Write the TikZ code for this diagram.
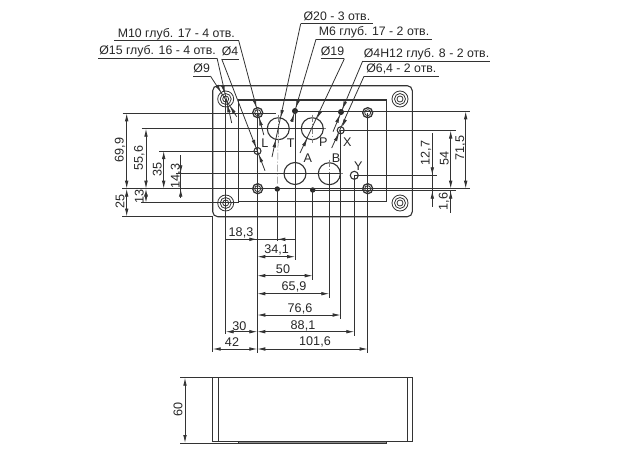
\documentclass[tikz,border=0pt]{standalone}
\usepackage{fontspec}
\setmainfont{Liberation Sans}
\usetikzlibrary{calc, arrows.meta}
\tikzset{
  ln/.style={draw=black!80, line width=.8pt},
  ctr/.style={draw=black!50, line width=.5pt, dash pattern=on 7pt off 2pt on 1pt off 2pt},
  dimln/.style={ln, {Latex[length=8pt,width=3.6pt]}-{Latex[length=8pt,width=3.6pt]}},
  tip/.style={ln, -{Latex[length=8pt,width=3.6pt]}},
  lbl/.style={font=\fontsize{12.3}{13}\selectfont, text=black!85, inner sep=0pt, text depth=3.4pt, anchor=south west, align=center},
  num/.style={font=\fontsize{12.6}{13}\selectfont, text=black!85, inner sep=0pt},
}
\begin{document}
\begin{tikzpicture}[x=1pt,y=-1pt]
\useasboundingbox (0,0) rectangle (640,455);
% holes
\coordinate (c1) at (225.7,99);
\coordinate (c2) at (400,99);
\coordinate (c3) at (225.7,203);
\coordinate (c4) at (400,203);
\coordinate (m1) at (257.7,112.7);
\coordinate (m2) at (367.7,112.7);
\coordinate (m3) at (257.7,188.7);
\coordinate (m4) at (367.7,188.7);
\coordinate (L) at (257.5,151);
\coordinate (T) at (278.3,128.7);
\coordinate (P) at (312.3,128.7);
\coordinate (A) at (295,173.5);
\coordinate (B) at (329.3,173.7);
\coordinate (X) at (340.7,130.3);
\coordinate (Y) at (354.3,175.3);
\coordinate (s1) at (295,111);
\coordinate (s2) at (341,112);
\coordinate (s3) at (277.3,189);
\coordinate (s4) at (312.7,190);

% plate
\draw[ln, line width=1.1pt, rounded corners=5pt] (212.7,85.7) rectangle (412.3,216.7);
\draw[ln, line width=1.1pt] (238.3,100) rectangle (386.7,201.7);
\foreach \h in {c1,c2,c3,c4}
{
  \draw[ln] (\h) circle (8pt) (\h) circle (5.5pt) (\h) circle (3pt);
}
\foreach \h in {m1,m2,m3,m4}
{
  \draw[ln, line width=1.3pt] (\h) circle (5pt);
  \draw[ln] (\h) circle (3pt);
}
\foreach \h/\r in {T/11pt,P/11pt,A/11pt,B/11pt}
{
  \draw[ln, line width=1.1pt] (\h) circle (\r);
  \draw[ctr] ($(\h)+(-14,0)$) -- ($(\h)+(14,0)$);
  \draw[ctr] ($(\h)+(0,-14)$) -- ($(\h)+(0,14)$);
}
\foreach \h/\r in {L/3.5pt,X/3.5pt,Y/4pt}
{
  \draw[ln, line width=1.1pt] (\h) circle (\r);
}
\foreach \h in {s1,s2}
{
  \fill[black!85] (\h) circle (3pt);
}
\foreach \h in {s3,s4}
{
  \fill[black!85] (\h) circle (2.7pt);
}
\draw[ctr] (m2) -- (m4);
\draw[ctr] (T) -- (277.3,185);

% witness lines
\foreach \xa/\ya/\yb in {212.7/216/351.7, 225.7/99/334, 257.3/113/353, 277.3/189/241, 295/111/260, 312.7/190/280, 329.3/173/298, 340.7/130/319, 354.3/175/335.7, 367.7/113/353}
{
  \draw[ln] (\xa,\ya) -- (\xa,\yb);
}
\foreach \yy/\xa/\xb in {113.3/122.7/276, 111.3/295/470, 128.7/141.7/324, 130.5/341/455.7, 151/159/257, 173.3/176/340, 175.3/354/436.7, 202.7/141/239, 216.5/122/213}
{
  \draw[ln] (\xa,\yy) -- (\xb,\yy);
}
\draw[ln, line width=1.2pt] (122,188.7) -- (470,188.7);
\draw[ln] (312,190.7) -- (456,190.7);

% vertical dims
\foreach \xa/\ya/\yb in {126.7/113.3/188.7, 126.7/188.7/216.5, 146/128.7/188.7, 146/188.7/202.7, 163.7/151/188.7, 450.7/130.5/188.7, 465.7/111.3/188.7, 185/377.7/443}
{
  \draw[dimln] (\xa,\ya) -- (\xa,\yb);
}
\draw[ln] (180.7,155) -- (180.7,198);
\draw[tip] (180.7,165) -- (180.7,173.3);
\draw[tip] (180.7,198) -- (180.7,188.7);
\draw[ln] (432.3,133) -- (432.3,206.7);
\draw[tip] (432.3,167) -- (432.3,175.3);
\draw[tip] (432.3,199) -- (432.3,190.7);
\draw[ln] (450.7,190.7) -- (450.7,213);
\draw[tip] (450.7,199) -- (450.7,190.7);

% horizontal dims
\foreach \yy/\xa/\xb in {256.7/257.3/295, 275.7/257.3/312.7, 293.7/257.3/329.3, 315/257.3/340.7, 331.7/257.3/354.3, 349/257.3/367.7, 331.7/225.7/257.3, 349/212.7/257.3}
{
  \draw[dimln] (\xa,\yy) -- (\xb,\yy);
}
\draw[ln] (225.7,239.3) -- (295,239.3);
\draw[tip] (249,239.3) -- (257.3,239.3);
\draw[tip] (285.6,239.3) -- (277.3,239.3);

% side view
\draw[ln] (212.3,377.7) rectangle (412.7,441);
\draw[ln] (218.7,377.7) -- (218.7,441);
\draw[ln] (407.3,377.7) -- (407.3,441);
\draw[ln, fill=black!45] (238.3,441) rectangle (386.7,443);
\draw[ln] (180,377.7) -- (212.3,377.7);
\draw[ln] (180,443) -- (238.3,443);

% numbers
\foreach \x/\y/\t [count=\i] in {241/233/{18,3}, 276.7/250/{34,1}, 283/269/{50}, 294/286.7/{65,9}, 300/309/{76,6}, 303/325.7/{88,1}, 315/342.3/{101,6}, 239.3/325.7/{30}, 232/342.3/{42}}
{
  \node[num] (hn\i) at (\x,\y) {\t};
}
\foreach \x/\y/\t [count=\i] in {120/150/{69,9}, 139.3/158/{55,6}, 157.3/169/{35}, 176/176/{14,3}, 120/201.7/{25}, 139.3/196/{13}, 426/153/{12,7}, 444.3/158/{54}, 460.7/148/{71,5}, 444/201.7/{1,6}, 178/409/{60}}
{
  \node[num, rotate=90] (vn\i) at (\x,\y) {\t};
}
\foreach \n/\x/\y in {L/265/143.3, T/290.7/142.7, P/323.3/141.7, A/307.7/158.3, B/336/158.3, X/347.3/142, Y/358.3/166}
{
  \node[num] (port\n) at (\x,\y) {\n};
}

% callouts
\foreach \n/\x/\y/\w/\t in {ln1/114/40.7/124.3/{M10 глуб. 17 - 4 отв.}, ln2/98/58.3/118.7/{Ø15 глуб. 16 - 4 отв.}, ln3/221.7/59/15.6/{Ø4}, ln4/193/76/17/{Ø9}, ln5/300.7/23.7/72/{Ø20 - 3 отв.}, ln6/316/39.3/115.7/{M6 глуб. 17 - 2 отв.}, ln7/320.7/58.7/23.3/{Ø19}, ln8/362.7/61/127.3/{Ø4H12 глуб. 8 - 2 отв.}, ln9/364/76.3/74.3/{Ø6,4 - 2 отв.}}
{
  \node[lbl, minimum width=\w pt] (\n) at (\x,\y) {\t};
  \draw[ln] (\n.south west) -- (\n.south east);
}
\coordinate (e1) at (263.8,135);
\coordinate (e2) at (231.7,123);
\coordinate (e3) at (265,170.7);
\coordinate (e4) at (236.7,116.7);
\coordinate (e5) at (272,157);
\coordinate (e6) at (291.7,121.7);
\coordinate (e7) at (300,153);
\coordinate (e8) at (333,131.7);
\coordinate (e9) at (331.7,148);
\foreach \n/\s/\e/\h/\r in {ln1/south east/e1/m1/5pt, ln2/south east/e2/c1/5.5pt, ln3/south west/e3/L/3.5pt, ln4/south east/e4/c1/8pt, ln5/south west/e5/T/11pt, ln6/south west/e6/s1/3pt, ln7/south east/e7/P/11pt, ln8/south west/e8/s2/3pt, ln9/south west/e9/X/3.5pt}
{
  \draw[ln] (\n.\s) -- (\e);
  \draw[tip] ($(\h)!\r+8pt!(\n.\s)$) -- ($(\h)!\r!(\n.\s)$);
  \draw[tip] ($(\h)!\r+8pt!(\e)$) -- ($(\h)!\r!(\e)$);
}
\end{tikzpicture}
\end{document}
